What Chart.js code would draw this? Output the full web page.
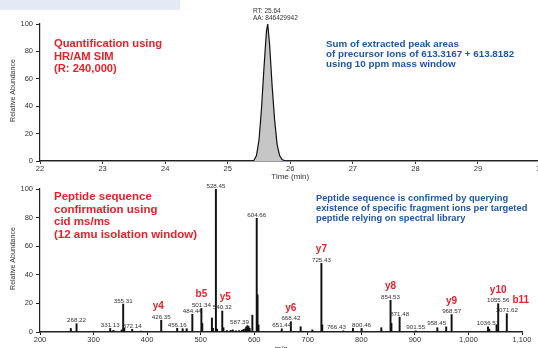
<!DOCTYPE html>
<html>
<head>
<meta charset="utf-8">
<script src="https://cdn.jsdelivr.net/npm/chart.js@4.4.1/dist/chart.umd.min.js"></script>
<style>
  html, body { margin: 0; padding: 0; width: 538px; height: 348px; overflow: hidden; background: #fff; }
  body { position: relative; font-family: 'Liberation Sans', Arial, sans-serif; }
  canvas { position: absolute; left: 0; }
  #xic { top: 0; }
  #spec { top: 175px; }
  .note { position: absolute; font-weight: bold; white-space: nowrap; }
  .red { color: #e8212b; }
  .blue { color: #1f56a6; }
</style>
</head>
<body>
<div style="position:absolute;left:0;top:0;width:180px;height:10px;background:#e2eaf5;"></div>

<canvas id="xic" width="560" height="184"></canvas>
<canvas id="spec" width="538" height="179"></canvas>

<div class="note" style="left:253px;top:7px;font-weight:normal;font-size:6.5px;line-height:7px;color:#333;">RT: 25.64<br>AA: 846429942</div>
<div class="note red" style="left:54px;top:37px;font-size:11.2px;line-height:12.5px;">Quantification using<br>HR/AM SIM<br>(R: 240,000)</div>
<div class="note blue" style="left:326px;top:39px;font-size:9.8px;line-height:10px;">Sum of extracted peak areas<br>of precursor Ions of 613.3167 + 613.8182<br>using 10 ppm mass window</div>
<div class="note red" style="left:54px;top:190px;font-size:11.5px;line-height:12.7px;">Peptide sequence<br>confirmation using<br>cid ms/ms<br>(12 amu isolation window)</div>
<div class="note blue" style="left:316px;top:193px;font-size:9.3px;line-height:10px;">Peptide sequence is confirmed by querying<br>existence of specific fragment ions per targeted<br>peptide relying on spectral library</div>

<script>
// chromatogram (time in min, relative abundance)
const rtTime  = [22, 25.30, 25.36, 25.42, 25.46, 25.50, 25.54, 25.58, 25.62, 25.64, 25.67, 25.71, 25.75, 25.79, 25.83, 25.87, 25.92, 30];
const rtAbund = [0, 0, 0, 0.5, 4, 15, 38, 68, 95, 100, 85, 55, 30, 12, 4, 1, 0, 0];
// integration boundary marks on the baseline
const markTime = [25.36, 25.42, 25.6, 25.87, 25.95];
const markAbund = [0, 0, null, 0, 0];

// ms/ms spectrum
const specMz  = [257.5, 268.22, 331.13, 337.0, 352.5, 355.31, 357.4, 372.14, 388.6, 426.35, 456.16, 466.4, 473.9, 484.44, 501.34, 503.0,
                 521.0, 523.0, 528.45, 530.5, 540.32, 542.5, 549, 556, 560, 566, 572, 577, 580, 583, 585, 587.39, 589.5, 591.5,
                 596.5, 604.66, 606.2, 608.0, 651.44, 668.42, 686.7, 708.5, 725.43, 727.0, 766.43, 784.4, 800.46, 837.3,
                 854.53, 856.2, 871.48, 901.55, 941.9, 958.45, 968.57, 1036.51, 1039.0, 1052.5, 1055.56, 1071.62];
const specInt = [2.5, 5.8, 2.5, 1.2, 1.5, 19.5, 2.6, 1.9, 0.7, 8.2, 2.6, 2.3, 2.3, 12.4, 16.5, 6,
                 9.8, 2.6, 100, 2, 14.7, 3, 1, 1.2, 1.5, 0.8, 1, 1.2, 1.8, 2.2, 3.5, 4.5, 3.8, 2.5,
                 11.8, 79.5, 26, 5, 2.2, 7.2, 3.7, 1.5, 48, 5, 0.8, 2.6, 2.5, 3,
                 22.2, 6, 10.4, 0.8, 3, 3.6, 12.2, 3.7, 2, 5, 19.8, 12.8];
const labeledMz = [268.22, 331.13, 355.31, 372.14, 426.35, 456.16, 484.44, 501.34, 528.45, 540.32, 587.39, 604.66,
                   651.44, 668.42, 725.43, 766.43, 800.46, 854.53, 871.48, 901.55, 958.45, 968.57, 1036.51, 1055.56, 1071.62];
const ionNames = ['y4', 'b5', 'y5', 'y6', 'y7', 'y8', 'y9', 'y10', 'b11'];
const ionMz    = [426.35, 501.34, 540.32, 668.42, 725.43, 854.53, 968.57, 1055.56, 1071.62];
const yTicks = [0, 20, 40, 60, 80, 100];

Chart.defaults.font.family = "'Liberation Sans', Arial, sans-serif";
Chart.defaults.color = '#333';

// label nudges (px) where the instrument software moved a label off its peak
const labelShift = { 587.39: -8, 766.43: -7, 958.45: -9.5 };
const ionShift = { 'y4': -3, 'y5': 3, 'b11': 14 };

// leading spaces push the rotated title up a little, like the original
const yTitle = '  Relative Abundance';

function yAxis() {
  return {
    min: 0, max: 100,
    afterFit: s => { s.width = 40; },
    afterBuildTicks: s => { s.ticks = yTicks.map(v => ({ value: v })); },
    border: { display: true, color: '#222', width: 1.2 },
    grid: { drawOnChartArea: false, drawTicks: true, tickLength: 4, color: '#222' },
    ticks: { padding: 3, font: { size: 7.5 } },
    title: { display: true, text: yTitle, font: { size: 7 }, padding: { top: 9, bottom: 0 }, color: '#333' }
  };
}

new Chart(document.getElementById('xic'), {
  type: 'line',
  data: {
    datasets: [
      {
        data: rtTime.map((t, i) => ({ x: t, y: rtAbund[i] })),
        borderColor: '#111', borderWidth: 1.2, backgroundColor: '#c6c6c6',
        fill: 'origin', pointRadius: 0, tension: 0
      },
      {
        data: markTime.map((t, i) => ({ x: t, y: markAbund[i] })),
        borderColor: '#3344cc', borderWidth: 1.5, pointRadius: 0, spanGaps: false, fill: false
      }
    ]
  },
  options: {
    responsive: false, animation: false,
    layout: { padding: { top: 24, right: 19.5, left: 0, bottom: 0 } },
    plugins: { legend: { display: false }, tooltip: { enabled: false } },
    scales: {
      x: {
        type: 'linear', min: 22, max: 30,
        afterFit: s => { s.height = 23; },
        border: { display: true, color: '#333', width: 1.6 },
        grid: { drawOnChartArea: false, drawTicks: true, tickLength: 3, color: '#333' },
        ticks: { stepSize: 1, padding: 0.5, font: { size: 7.5 } },
        title: { display: true, text: 'Time (min)', font: { size: 8 }, padding: { top: 0, bottom: 2 }, color: '#333' }
      },
      y: yAxis()
    }
  }
});

const peakLabels = {
  id: 'peakLabels',
  afterDatasetsDraw(chart) {
    const ctx = chart.ctx, xs = chart.scales.x, ys = chart.scales.y;
    ctx.save();
    ctx.textAlign = 'center';
    ctx.textBaseline = 'alphabetic';
    labeledMz.forEach(mz => {
      const k = specMz.indexOf(mz);
      const x = xs.getPixelForValue(mz) + (labelShift[mz] || 0);
      const y = ys.getPixelForValue(specInt[k]) - 1.5;
      ctx.font = "6.2px 'Liberation Sans', Arial";
      ctx.fillStyle = '#333';
      ctx.fillText(mz.toFixed(2), x, y);
      const j = ionMz.indexOf(mz);
      if (j >= 0) {
        const name = ionNames[j];
        ctx.font = "bold 10px 'Liberation Sans', Arial";
        ctx.fillStyle = '#e8212b';
        ctx.fillText(name, xs.getPixelForValue(mz) + (ionShift[name] || 0), y - 9.5);
      }
    });
    ctx.restore();
  }
};

new Chart(document.getElementById('spec'), {
  type: 'bar',
  data: {
    datasets: [{
      data: specMz.map((m, i) => ({ x: m, y: specInt[i] })),
      backgroundColor: '#111', borderWidth: 0, barThickness: 1.3
    }]
  },
  options: {
    responsive: false, animation: false,
    layout: { padding: { top: 14, right: 16, left: 0, bottom: 0 } },
    plugins: { legend: { display: false }, tooltip: { enabled: false } },
    scales: {
      x: {
        type: 'linear', min: 200, max: 1100, offset: false,
        afterFit: s => { s.height = 22; },
        border: { display: true, color: '#222', width: 1.4 },
        grid: { offset: false, drawOnChartArea: false, drawTicks: true, tickLength: 3, color: '#222' },
        ticks: { stepSize: 100, padding: 0.5, font: { size: 7.5 } },
        title: { display: true, text: 'm/z', font: { size: 8 }, padding: { top: 0, bottom: 0 }, color: '#333' }
      },
      y: yAxis()
    }
  },
  plugins: [peakLabels]
});
</script>
</body>
</html>
